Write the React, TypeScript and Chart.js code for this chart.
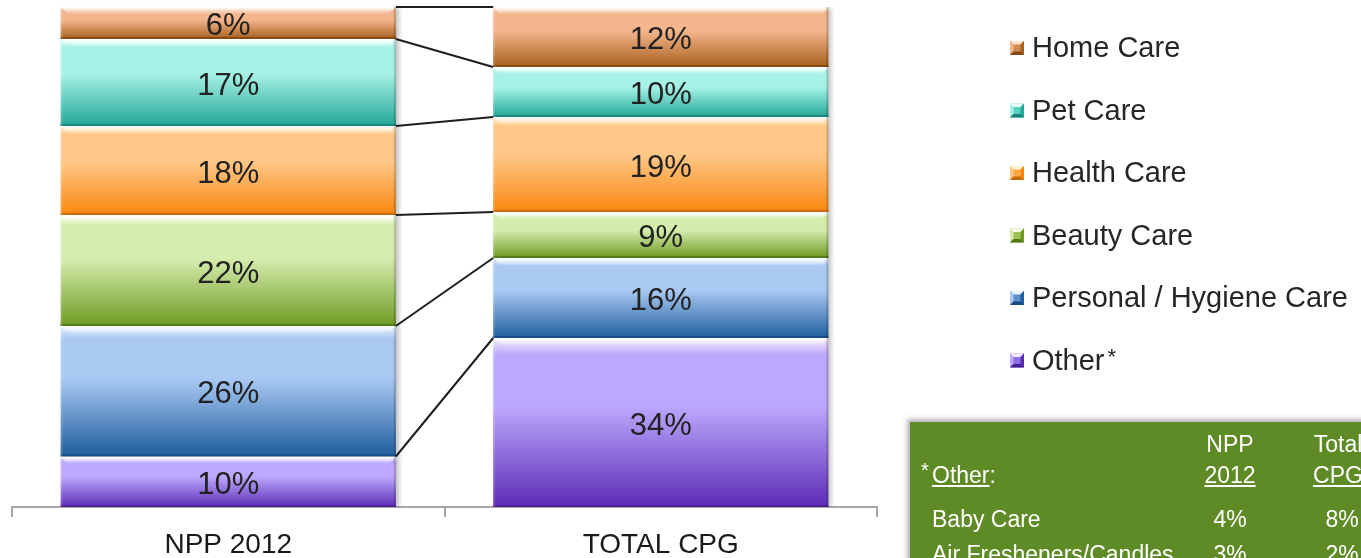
import React, { useEffect, useRef } from 'react';
import { Chart, registerables } from 'chart.js';

Chart.register(...registerables);

// ---- data ----
const categories = ['NPP 2012', 'TOTAL CPG'];
const seriesNames = ['Other', 'Personal / Hygiene Care', 'Beauty Care', 'Health Care', 'Pet Care', 'Home Care'];
const otherValues = [10.1, 33.8];
const personalValues = [26.1, 16];
const beautyValues = [22.2, 9.2];
const healthValues = [17.8, 19];
const petValues = [17.4, 10];
const homeValues = [6.4, 12];

const otherBreakdownNames = ['Baby Care', 'Air Fresheners/Candles'];
const otherBreakdownNpp = [4, 3];
const otherBreakdownTotal = [8, 2];

// ---- styles ----
const FONT = '"Liberation Sans", Arial, Helvetica, sans-serif';
const highlightColors = ['#f6ecff', '#e6f3ff', '#f9ffea', '#fff3d2', '#e8fffa', '#fde4cc'];
const lightColors = ['#bca8fc', '#a9c9f3', '#d4ecac', '#ffc787', '#a6f2e6', '#f3b58c'];
const darkColors = ['#5c2cb6', '#1f5e9e', '#6e9a22', '#f8870f', '#23a797', '#a8601d'];
const edgeColors = ['#4a2196', '#174a80', '#547818', '#c86a08', '#17857a', '#844810'];
const midColors = ['#8e6ee0', '#5a8fcc', '#9cc05a', '#fca548', '#5ccfc0', '#cf8a52'];

const allValues = [otherValues, personalValues, beautyValues, healthValues, petValues, homeValues];

function gradientFor(i: number) {
  return (ctx: any) => {
    const chart = ctx.chart;
    if (ctx.type !== 'data' || !chart.chartArea || !chart.scales.y) return lightColors[i];
    const j = ctx.dataIndex;
    let bottom = 0;
    for (let k = 0; k < i; k++) bottom += allValues[k][j];
    const top = bottom + allValues[i][j];
    const yTop = chart.scales.y.getPixelForValue(top);
    const yBot = chart.scales.y.getPixelForValue(bottom);
    if (!isFinite(yTop) || !isFinite(yBot) || yTop === yBot) return lightColors[i];
    const g = chart.ctx.createLinearGradient(0, yTop, 0, yBot);
    g.addColorStop(0, highlightColors[i]);
    g.addColorStop(0.1, lightColors[i]);
    g.addColorStop(0.4, lightColors[i]);
    g.addColorStop(1, darkColors[i]);
    return g;
  };
}

const barDecor = {
  id: 'barDecor',
  beforeDatasetsDraw(chart: any) {
    const c = chart.ctx;
    c.save();
    c.shadowColor = 'rgba(0,0,0,0.28)';
    c.shadowBlur = 5;
    c.shadowOffsetX = 3;
    c.shadowOffsetY = 1;
  },
  afterDatasetsDraw(chart: any) {
    const c = chart.ctx;
    c.restore();
    const n = chart.data.datasets.length;
    for (let i = 0; i < n; i++) {
      const meta = chart.getDatasetMeta(i);
      meta.data.forEach((el: any) => {
        const { x, y, base, width } = el.getProps(['x', 'y', 'base', 'width'], true);
        const x0 = x - width / 2;
        const x1 = x + width / 2;
        const top = Math.min(y, base);
        const bot = Math.max(y, base);
        const b = 7;
        c.save();
        const g = c.createLinearGradient(0, top, 0, top + b);
        g.addColorStop(0, 'rgba(255,255,255,0.95)');
        g.addColorStop(1, 'rgba(255,255,255,0.05)');
        c.fillStyle = g;
        c.beginPath();
        c.moveTo(x0, top);
        c.lineTo(x1, top);
        c.lineTo(x1 - b, top + b);
        c.lineTo(x0 + b, top + b);
        c.closePath();
        c.fill();
        c.fillStyle = edgeColors[i];
        c.globalAlpha = 0.85;
        c.fillRect(x0, bot - 2, width, 2);
        c.globalAlpha = 0.18;
        c.fillStyle = '#000';
        c.fillRect(x1 - 2, top, 2, bot - top);
        c.globalAlpha = 0.12;
        c.fillStyle = '#fff';
        c.fillRect(x0, top, 2, bot - top);
        c.restore();
      });
    }
    // connector lines
    c.save();
    c.strokeStyle = '#1e1e1e';
    c.lineWidth = 2;
    for (let i = 0; i < n; i++) {
      const meta = chart.getDatasetMeta(i);
      const a = meta.data[0];
      const b2 = meta.data[1];
      if (!a || !b2) continue;
      const pa = a.getProps(['x', 'y', 'width'], true);
      const pb = b2.getProps(['x', 'y', 'width'], true);
      c.beginPath();
      c.moveTo(pa.x + pa.width / 2, pa.y);
      c.lineTo(pb.x - pb.width / 2, pb.y);
      c.stroke();
    }
    c.restore();
    // value labels
    c.save();
    c.fillStyle = '#222';
    c.font = `31px ${FONT}`;
    c.textAlign = 'center';
    c.textBaseline = 'middle';
    for (let i = 0; i < n; i++) {
      const meta = chart.getDatasetMeta(i);
      meta.data.forEach((el: any, j: number) => {
        const { x, y, base } = el.getProps(['x', 'y', 'base'], true);
        const v = chart.data.datasets[i].data[j];
        c.fillText(`${Math.round(v)}%`, x, (y + base) / 2 + 3.5);
      });
    }
    c.restore();
  },
};

const customLegend = {
  id: 'customLegend',
  afterDraw(chart: any) {
    const c = chart.ctx;
    const n = chart.data.datasets.length;
    c.save();
    c.font = `29px ${FONT}`;
    c.fillStyle = '#262626';
    c.textBaseline = 'alphabetic';
    c.textAlign = 'left';
    const poly = (pts: number[][], col: string) => {
      c.fillStyle = col;
      c.beginPath();
      c.moveTo(pts[0][0], pts[0][1]);
      for (let p = 1; p < pts.length; p++) c.lineTo(pts[p][0], pts[p][1]);
      c.closePath();
      c.fill();
    };
    for (let k = 0; k < n; k++) {
      const i = n - 1 - k; // top-down order
      const baseline = 57 + k * 62.5;
      const s = 14;
      const mx = 1010;
      const my = baseline - 16;
      const b = 3.5;
      // bevelled marker
      poly([[mx, my], [mx + s, my], [mx + s, my + s], [mx, my + s]], midColors[i]);
      poly([[mx, my], [mx + s, my], [mx + s - b, my + b], [mx + b, my + b]], highlightColors[i]);
      poly([[mx, my], [mx + b, my + b], [mx + b, my + s - b], [mx, my + s]], lightColors[i]);
      poly([[mx + s, my], [mx + s, my + s], [mx + s - b, my + s - b], [mx + s - b, my + b]], darkColors[i]);
      poly([[mx, my + s], [mx + b, my + s - b], [mx + s - b, my + s - b], [mx + s, my + s]], edgeColors[i]);
      c.fillStyle = '#262626';
      const name = chart.data.datasets[i].label;
      c.fillText(name, 1032, baseline);
      if (i === 0) {
        const w = c.measureText(name).width;
        c.save();
        c.font = `22px ${FONT}`;
        c.fillText('*', 1032 + w + 3, baseline - 6);
        c.restore();
      }
    }
    c.restore();
  },
};

function Cell(props: { left: number; top: number; width?: number; align?: string; size?: number; children: any; }) {
  const { left, top, width, align, size, children } = props;
  return (
    <div
      style={{
        position: 'absolute',
        left,
        top,
        width: width,
        textAlign: (align as any) || 'left',
        fontSize: size || 23,
        lineHeight: `${size || 23}px`,
        whiteSpace: 'nowrap',
      }}
    >
      {children}
    </div>
  );
}

export default function App() {
  const ref = useRef<HTMLCanvasElement | null>(null);

  useEffect(() => {
    if (!ref.current) return;
    const chart = new Chart(ref.current, {
      type: 'bar',
      data: {
        labels: categories,
        datasets: allValues.map((vals, i) => ({
          label: seriesNames[i],
          data: vals,
          backgroundColor: gradientFor(i),
          borderWidth: 0,
          barPercentage: 1,
          categoryPercentage: 0.775,
        })),
      },
      options: {
        responsive: false,
        animation: false,
        devicePixelRatio: 1,
        layout: { padding: { left: 12, right: 484, top: 7, bottom: 0 } },
        plugins: {
          legend: { display: false },
          tooltip: { enabled: false },
        },
        scales: {
          x: {
            stacked: true,
            grid: {
              display: true,
              drawOnChartArea: false,
              drawTicks: true,
              tickLength: 10,
              color: '#a6a6a6',
              lineWidth: 2,
              offset: true,
            },
            border: { display: true, color: '#a6a6a6', width: 2 },
            ticks: {
              color: '#1a1a1a',
              font: { family: FONT, size: 28 },
              padding: 11,
            },
            afterFit: (s: any) => {
              s.height = 51;
            },
          },
          y: { stacked: true, min: 0, max: 100, display: false },
        },
      },
      plugins: [barDecor, customLegend],
    } as any);
    return () => chart.destroy();
  }, []);

  return (
    <div
      style={{
        position: 'absolute',
        left: 0,
        top: 0,
        width: 1361,
        height: 558,
        overflow: 'hidden',
        background: '#fff',
      }}
    >
      <canvas ref={ref} width={1361} height={558} style={{ position: 'absolute', left: 0, top: 0 }} />
      <div
        style={{
          position: 'absolute',
          left: 910,
          top: 422,
          width: 480,
          height: 200,
          background: '#5f8b26',
          boxShadow: '0 0 5px 3px rgba(0,0,0,0.3)',
          color: '#fff',
          fontFamily: FONT,
        }}
      >
        <Cell left={270} top={10.5} width={100} align="center">NPP</Cell>
        <Cell left={378} top={10.5} width={100} align="center">Total</Cell>
        <Cell left={11} top={38} size={20}>*</Cell>
        <Cell left={22} top={41.5}>
          <span style={{ textDecoration: 'underline' }}>Other</span>:
        </Cell>
        <Cell left={270} top={41.5} width={100} align="center">
          <span style={{ textDecoration: 'underline' }}>2012</span>
        </Cell>
        <Cell left={378} top={41.5} width={100} align="center">
          <span style={{ textDecoration: 'underline' }}>CPG</span>
        </Cell>
        {otherBreakdownNames.map((name, r) => (
          <React.Fragment key={name}>
            <Cell left={22} top={85.5 + r * 35}>{name}</Cell>
            <Cell left={270} top={85.5 + r * 35} width={100} align="center">{`${otherBreakdownNpp[r]}%`}</Cell>
            <Cell left={382} top={85.5 + r * 35} width={100} align="center">{`${otherBreakdownTotal[r]}%`}</Cell>
          </React.Fragment>
        ))}
      </div>
    </div>
  );
}
